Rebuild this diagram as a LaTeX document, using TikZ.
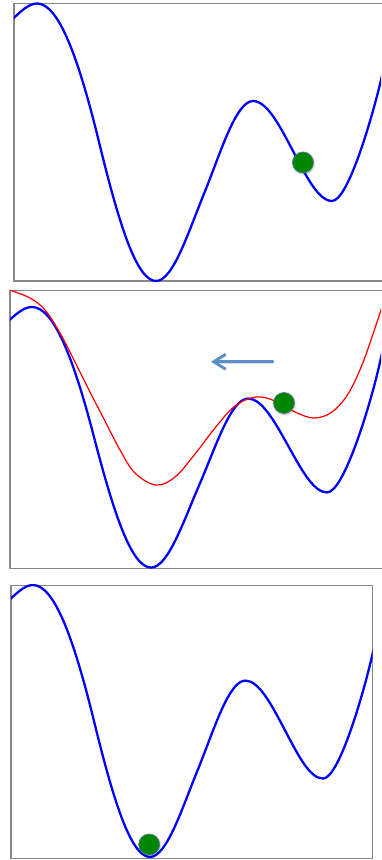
\documentclass[tikz,border=0pt]{standalone}
\usepackage{tikz}
\usetikzlibrary{
    arrows.meta,
    shadows.blur
}
\definecolor{wellBlue}{RGB}{0,0,255}
\definecolor{tiltRed}{RGB}{255,0,0}
\definecolor{frameGray}{RGB}{135,135,135}
\definecolor{ballGreen}{RGB}{0,134,0}
\definecolor{ballEdge}{RGB}{85,125,150}
\definecolor{pushBlue}{RGB}{92,142,200}
\tikzset{
  frm/.style   = {draw=frameGray, line width=0.6pt},
  well/.style  = {draw=wellBlue, line width=1.3pt},
  tilt/.style  = {tiltRed, line width=0.7pt},
  ball/.style  = {circle, fill=ballGreen, draw=ballEdge, line width=0.4pt,
                  minimum size=4.2mm, inner sep=0pt,
                  blur shadow={shadow xshift=0.3pt, shadow yshift=-0.6pt,
                               shadow blur radius=1.2pt, shadow opacity=30}},
  arr/.style   = {-{Straight Barb[length=2.4mm,width=3mm]}, pushBlue,
                  line width=1.6pt, line cap=round, line join=round,
                  preaction={draw=black, opacity=0.15,
                             transform canvas={xshift=0.6pt, yshift=-1pt}}},
  landscape/.style = {insert path={
    (12,19.5) .. controls (20,12.5) and (28,3.5) .. (37,3.5)
      .. controls (58.7,3.5) and (78.5,58) .. (99,142)
      .. controls (117.8,219) and (136,281) .. (156,281)
      .. controls (173.3,281) and (188.7,230.8) .. (205.5,190)
      .. controls (221.2,150.8) and (236.4,101) .. (253,101)
      .. controls (267,101) and (279.8,125.9) .. (293,151)
      .. controls (305.9,175.5) and (318.3,201) .. (332,201)
      .. controls (348,201) and (372,118) .. (381,80)
      .. controls (385,63) and (388,48) .. (391,33)}}
}

\begin{document}
\begin{tikzpicture}[x=0.2mm, y=-0.2mm]
    \useasboundingbox (0,0) rectangle (381,860);

    % top panel: ball stuck in the side well
    \draw[frm] (382,3.5) -- (14,3.5) -- (14,281) -- (382,281);
    \begin{scope}
        \clip (14,2.5) rectangle (381,281.5);
        \path[well, landscape];
    \end{scope}
    \node[ball] (ball1) at (303,162.5) {};

    % middle panel: tilted landscape
    \draw[frm] (382,290.7) -- (10,290.7) -- (10,568.7) -- (382,568.7);
    \begin{scope}
        \clip (10,289.7) rectangle (381,569);
        \begin{scope}[shift={(-5,303.7)}, yscale=0.939]
            \path[well, landscape];
        \end{scope}
        \draw[tilt] plot[smooth, tension=0.6] coordinates {
          (9.5,290) (30,298) (45,310) (60,333) (75,362) (90,392)
          (105,421) (120,450) (135,473) (156,485) (175,477) (195,454)
          (215,428) (235,406) (256,397) (275,401) (295,412) (314,418)
          (332,412) (348,394) (362,365) (374,331) (383,304)};
    \end{scope}
    \coordinate (pushfrom) at (273,361.7);
    \coordinate (pushto) at (211,361.7);
    \draw[arr] (pushfrom) -- (pushto);
    \node[ball] (ball2) at (284,403) {};

    % bottom panel: ball in the deep well
    \draw[frm] (11,585.7) rectangle (372.7,858.3);
    \begin{scope}
        \clip (11,584.7) rectangle (372.7,858.8);
        \begin{scope}[shift={(-3.4,581.6)}, xscale=0.983, yscale=0.98]
            \path[well, landscape];
        \end{scope}
    \end{scope}
    \node[ball] (ball3) at (149.2,844.5) {};
\end{tikzpicture}
\end{document}
